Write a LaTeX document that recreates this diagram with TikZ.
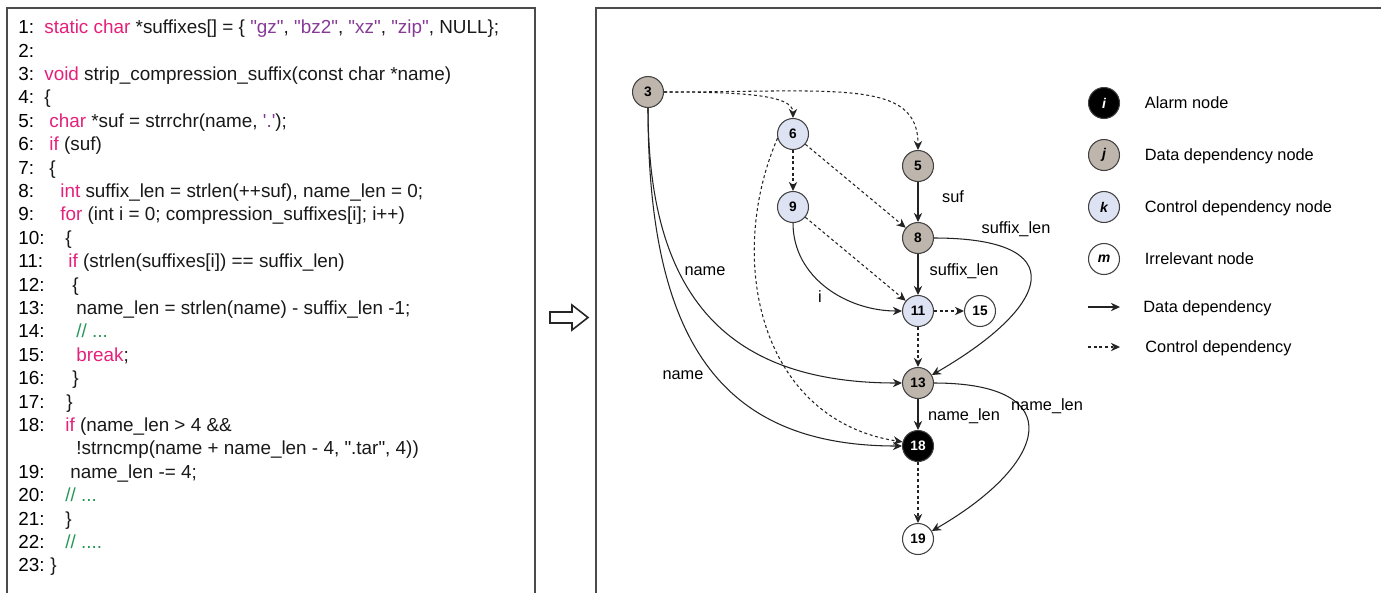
\documentclass[tikz,border=0pt]{standalone}
\usepackage{fontspec}
\setmainfont{Liberation Sans}
\newfontfamily\codefont{Liberation Sans}
\usetikzlibrary{arrows.meta, positioning}
\definecolor{KeyColor}{RGB}{228,32,122}
\definecolor{StrColor}{RGB}{134,58,150}
\definecolor{CmtColor}{RGB}{38,150,88}
\definecolor{DataFill}{RGB}{190,181,173}
\definecolor{CtrlFill}{RGB}{222,227,244}
\definecolor{FrameGray}{RGB}{75,75,75}
\definecolor{EdgeGray}{RGB}{35,35,35}
\newcommand{\kwd}[1]{\textcolor{KeyColor}{#1}}
\newcommand{\strlit}[1]{\textcolor{StrColor}{#1}}
\newcommand{\cmnt}[1]{\textcolor{CmtColor}{#1}}

\tikzset{
  frame/.style={draw=FrameGray, line width=1.3pt},
  lnum/.style={anchor=west, inner sep=0pt, text height=7.7pt, text depth=0pt, font=\codefont\fontsize{10.75}{12}\selectfont},
  code/.style={lnum, text=black!90},
  vnode/.style={circle, draw=black!75, line width=0.6pt, minimum size=0.62cm, inner sep=0pt, font=\codefont\fontsize{7.8}{8}\bfseries},
  datanode/.style={vnode, fill=DataFill},
  ctrlnode/.style={vnode, fill=CtrlFill},
  alarmnode/.style={vnode, fill=black, text=white},
  irrnode/.style={vnode, fill=white},
  lgnode/.style={font=\codefont\fontsize{8}{8}\bfseries\itshape},
  elabel/.style={inner sep=0pt, text height=6.7pt, text depth=0pt, font=\codefont\fontsize{9.3}{10}\selectfont},
  lgtext/.style={elabel, anchor=west},
  dep/.style={draw=EdgeGray, line width=0.6pt, -{Stealth[length=5.2pt,width=4.8pt]}},
  ctrl/.style={dep, dash pattern=on 1.7pt off 1.5pt},
}

\begin{document}
\begin{tikzpicture}[x=0.02cm, y=-0.02cm]
  \def\lh{23.4}
  \useasboundingbox (0,0) rectangle (1381,593);
  % Panel frames
  \draw[frame] (7,593) -- (7,8) -- (535,8) -- (535,593);
  \draw[frame] (596,593) -- (596,8) -- (1381,8);
  % Line numbers
  \foreach \n in {1,...,18} {\node[lnum] (ln\n) at (18, 27+\n*\lh-\lh) {\n:};}
  \foreach \n in {19,...,23} {\node[lnum] (ln\n) at (18, 27+\n*\lh) {\n:};}
  % Source lines
  \node[code] (c1) at (44, 27) {\kwd{static char} *suffixes[] = \{ \strlit{"gz"}, \strlit{"bz2"}, \strlit{"xz"}, \strlit{"zip"}, NULL\};};
  \node[code] (c3) at (44, 27+2*\lh) {\kwd{void} strip\_compression\_suffix(const char *name)};
  \node[code] (c4) at (44, 27+3*\lh) {\{};
  \node[code] (c5) at (49, 27+4*\lh) {\kwd{char} *suf = strrchr(name, \strlit{'.'});};
  \node[code] (c6) at (49, 27+5*\lh) {\kwd{if} (suf)};
  \node[code] (c7) at (49, 27+6*\lh) {\{};
  \node[code] (c8) at (60, 27+7*\lh) {\kwd{int} suffix\_len = strlen(++suf), name\_len = 0;};
  \node[code] (c9) at (60, 27+8*\lh) {\kwd{for} (int i = 0; compression\_suffixes[i]; i++)};
  \node[code] (c10) at (65, 27+9*\lh) {\{};
  \node[code] (c11) at (68, 27+10*\lh) {\kwd{if} (strlen(suffixes[i]) == suffix\_len)};
  \node[code] (c12) at (72, 27+11*\lh) {\{};
  \node[code] (c13) at (76, 27+12*\lh) {name\_len = strlen(name) - suffix\_len -1;};
  \node[code] (c14) at (76, 27+13*\lh) {\cmnt{// ...}};
  \node[code] (c15) at (76, 27+14*\lh) {\kwd{break};};
  \node[code] (c16) at (72, 27+15*\lh) {\}};
  \node[code] (c17) at (66, 27+16*\lh) {\}};
  \node[code] (c18) at (65, 27+17*\lh) {\kwd{if} (name\_len > 4 \&\&};
  \node[code] (c18b) at (76, 27+18*\lh) {!strncmp(name + name\_len - 4, ".tar", 4))};
  \node[code] (c19) at (70, 27+19*\lh) {name\_len -= 4;};
  \node[code] (c20) at (65, 27+20*\lh) {\cmnt{// ...}};
  \node[code] (c21) at (65, 27+21*\lh) {\}};
  \node[code] (c22) at (65, 27+22*\lh) {\cmnt{// ....}};
  \node[code] (c23) at (50, 27+23*\lh) {\}};
  % Hollow arrow between panels
  \draw[line width=0.9pt, draw=black!85, fill=white]
    (550,312) -- (572,312) -- (572,305) -- (588,317.5) -- (572,330) -- (572,323) -- (550,323) -- cycle;
  % Graph nodes
  \node[datanode] (v3) at (648,92) {3};
  \node[ctrlnode] (v6) at (793,134) {6};
  \node[datanode] (v5) at (918,166) {5};
  \node[ctrlnode] (v9) at (793,207) {9};
  \node[datanode] (v8) at (918,238) {8};
  \node[ctrlnode] (v11) at (918,311) {11};
  \node[irrnode] (v15) at (980,311) {15};
  \node[datanode] (v13) at (918,383) {13};
  \node[alarmnode] (v18) at (918,446) {18};
  \node[irrnode] (v19) at (918,539) {19};
  % Control dependencies
  \draw[ctrl] (v3) to[out=0, in=90, out looseness=1.5, in looseness=0.45] (v6);
  \draw[ctrl] (v3) to[out=0, in=90, out looseness=1.7, in looseness=0.7] (v5);
  \draw[ctrl] (v6) -- (v9);
  \draw[ctrl] (v6) -- (v8);
  \draw[ctrl] (v6.195) .. controls (725,260) and (760,420) .. (v18.165);
  \draw[ctrl] (v9) -- (v11);
  \draw[ctrl] (v11) -- (v15);
  \draw[ctrl] (v11) -- (v13);
  \draw[ctrl] (v18) -- (v19);
  % Data dependencies
  \draw[dep] (v3.south) .. controls (648,300) and (730,383) .. (v13.west);
  \draw[dep] (v3.south) .. controls (648,340) and (720,446) .. (v18.west);
  \draw[dep] (v5) -- (v8);
  \draw[dep] (v8) -- (v11);
  \draw[dep] (v9) to[out=-90, in=180] (v11);
  \draw[dep] (v8) to[out=0, in=30, looseness=2.6] (v13);
  \draw[dep] (v13) -- (v18);
  \draw[dep] (v13) to[out=0, in=30, looseness=2.35] (v19);
  % Edge labels
  \node[elabel] (l58) at (953,197) {suf};
  \node[elabel] (l811) at (964,270) {suffix\_len};
  \node[elabel] (l813) at (1016,228) {suffix\_len};
  \node[elabel] (l911) at (820,297) {i};
  \node[elabel] (l313) at (705,270) {name};
  \node[elabel] (l318) at (683,374) {name};
  \node[elabel] (l1318) at (964,415) {name\_len};
  \node[elabel] (l1319) at (1047,405) {name\_len};
  % Legend
  \node[vnode, fill=black, text=white, lgnode] (lg1) at (1104,103) {i};
  \node[vnode, fill=DataFill, lgnode] (lg2) at (1104,155) {j};
  \node[vnode, fill=CtrlFill, lgnode] (lg3) at (1104,207) {k};
  \node[vnode, fill=white, lgnode] (lg4) at (1104,259) {m};
  \node[lgtext, right=0.49cm of lg1] (lt1) {Alarm node};
  \node[lgtext, right=0.49cm of lg2] (lt2) {Data dependency node};
  \node[lgtext, right=0.49cm of lg3] (lt3) {Control dependency node};
  \node[lgtext, right=0.49cm of lg4] (lt4) {Irrelevant node};
  \coordinate (ld1) at (1088,307);
  \coordinate (ld2) at (1120,307);
  \coordinate (lc1) at (1088,347);
  \coordinate (lc2) at (1120,347);
  \draw[dep] (ld1) -- (ld2);
  \draw[ctrl] (lc1) -- (lc2);
  \node[lgtext] (lt5) at (1143,307) {Data dependency};
  \node[lgtext] (lt6) at (1145,347) {Control dependency};
\end{tikzpicture}
\end{document}
